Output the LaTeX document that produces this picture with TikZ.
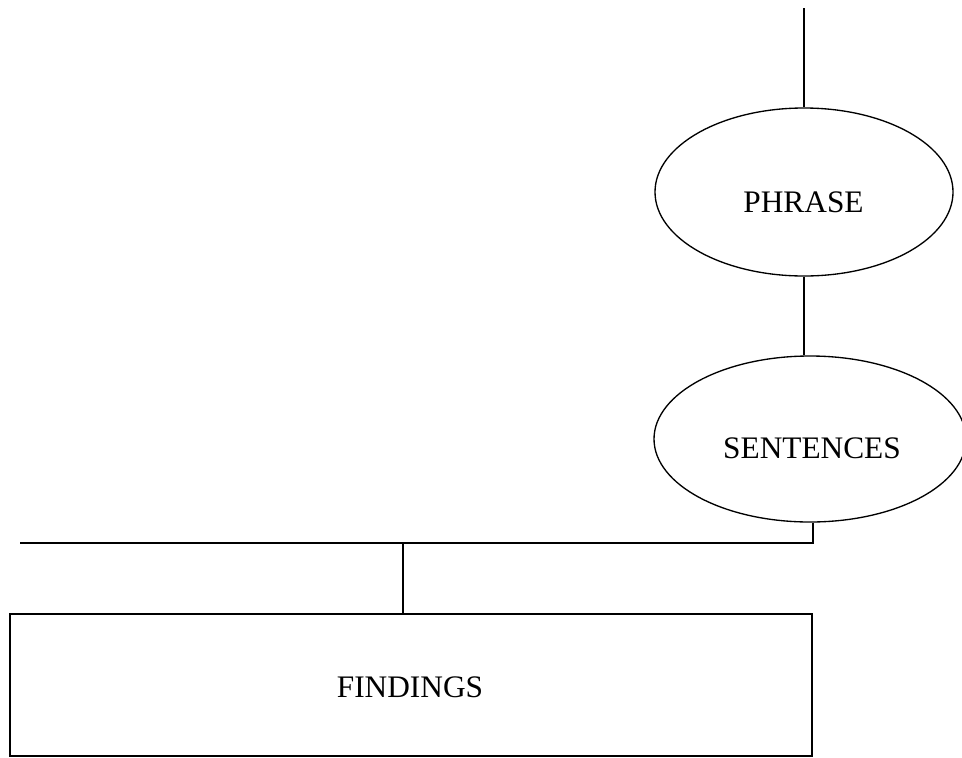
\documentclass[tikz,border=0pt]{standalone}
\usepackage{fontspec}
\setmainfont{Liberation Serif}
\usetikzlibrary{shapes.geometric}
\begin{document}
\begin{tikzpicture}[x=0.75pt,y=-0.75pt,
  line/.style={draw=black,line width=1pt},
  oval/.style={ellipse,draw=black,line width=1pt,inner sep=0pt},
  boxnode/.style={rectangle,draw=black,line width=1pt,inner sep=0pt},
  lbl/.style={anchor=base,inner sep=0pt,font=\fontsize{23.5}{28}\selectfont}]
\useasboundingbox (0,0) rectangle (962,757);
% shapes
\node[oval,minimum width=223.5pt,minimum height=126pt] (phrase) at (804,192) {};
\node[oval,minimum width=234pt,minimum height=124.5pt] (sentences) at (810,439) {};
\node[boxnode,minimum width=601.5pt,minimum height=106.5pt] (findings) at (411,685) {};
% labels
\node[lbl] (phraseT) at (803.5,212) {PHRASE};
\node[lbl] (sentencesT) at (812,458) {SENTENCES};
\node[lbl] (findingsT) at (410,697) {FINDINGS};
% connector points
\coordinate (top) at (804,8);
\coordinate (busR) at (813,543);
\coordinate (busL) at (20,543);
\coordinate (drop) at (403,543);
% connectors
\draw[line] (top) -- (phrase.north);
\draw[line] (phrase.south) -- (phrase.south |- sentences.north);
\draw[line] (busR |- sentences.south) -- (busR) -- (busL);
\draw[line] (drop) -- (drop |- findings.north);
\end{tikzpicture}
\end{document}
